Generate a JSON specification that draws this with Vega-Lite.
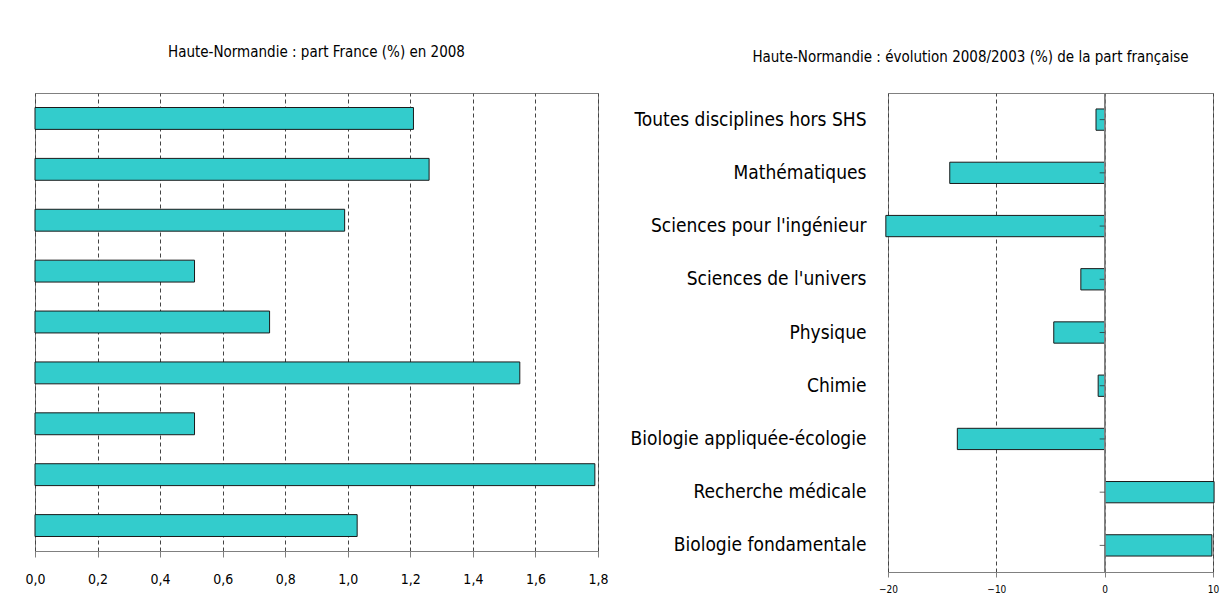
{
  "$schema": "https://vega.github.io/schema/vega-lite/v6.json",
  "background": "white",
  "padding": {"left": 24, "top": 44, "right": 2, "bottom": 5},
  "bounds": "flush",
  "spacing": 290,
  "config": {
    "font": "DejaVu Sans Condensed",
    "view": {"stroke": "#808080", "strokeWidth": 1},
    "axis": {"labelFont": "DejaVu Sans Condensed", "titleFont": "DejaVu Sans Condensed", "labelColor": "black", "domainColor": "#808080", "tickColor": "#808080"},
    "title": {"font": "DejaVu Sans Condensed"}
  },
  "datasets": {
    "d": [
      {"discipline": "Toutes disciplines hors SHS", "part": 1.21, "evolution": -0.8},
      {"discipline": "Mathématiques", "part": 1.26, "evolution": -14.3},
      {"discipline": "Sciences pour l'ingénieur", "part": 0.99, "evolution": -20.2},
      {"discipline": "Sciences de l'univers", "part": 0.51, "evolution": -2.2},
      {"discipline": "Physique", "part": 0.75, "evolution": -4.7},
      {"discipline": "Chimie", "part": 1.55, "evolution": -0.6},
      {"discipline": "Biologie appliquée-écologie", "part": 0.51, "evolution": -13.6},
      {"discipline": "Recherche médicale", "part": 1.79, "evolution": 10.1},
      {"discipline": "Biologie fondamentale", "part": 1.03, "evolution": 9.9}
    ]
  },
  "hconcat": [
    {
      "width": 563,
      "height": 458,
      "title": {"text": "Haute-Normandie : part France (%) en 2008", "fontSize": 15, "fontWeight": "normal", "color": "black", "frame": "group", "offset": 33},
      "data": {"name": "d"},
      "mark": {"type": "bar", "fill": "#33CCCC", "stroke": "#1a1a1a", "strokeWidth": 1},
      "encoding": {
        "y": {"field": "discipline", "type": "nominal", "sort": null, "axis": null, "scale": {"paddingInner": 0.57, "paddingOuter": 0.285}},
        "x": {
          "field": "part", "type": "quantitative",
          "scale": {"domain": [0, 1.8], "nice": false},
          "axis": {
            "title": null,
            "values": [0, 0.2, 0.4, 0.6, 0.8, 1.0, 1.2, 1.4, 1.6, 1.8],
            "labelExpr": "replace(format(datum.value, '.1f'), '.', ',')",
            "labelFlush": false,
            "grid": true, "gridDash": [4, 3], "gridColor": "#444444", "gridWidth": 1,
            "tickSize": 6, "labelFontSize": 14, "labelPadding": 15
          }
        }
      }
    },
    {
      "width": 325,
      "height": 479,
      "title": {"text": "Haute-Normandie : évolution 2008/2003 (%) de la part française", "fontSize": 15, "fontWeight": "normal", "color": "black", "frame": "group", "offset": 28, "dx": -80},
      "data": {"name": "d"},
      "layer": [
        {
          "mark": {"type": "bar", "fill": "#33CCCC", "stroke": "#1a1a1a", "strokeWidth": 1, "clip": false},
          "encoding": {
            "y": {
              "field": "discipline", "type": "nominal", "sort": null,
              "scale": {"paddingInner": 0.6, "paddingOuter": 0.3},
              "axis": {"title": null, "domain": false, "ticks": false, "labelFontSize": 19, "labelPadding": 22, "labelLimit": 400}
            },
            "x": {
              "field": "evolution", "type": "quantitative",
              "scale": {"domain": [-20, 10], "nice": false},
              "axis": {
                "title": null, "values": [-20, -10, 0, 10], "labelFlush": false,
                "grid": true, "gridDash": [4, 3], "gridColor": "#444444",
                "tickSize": 5, "labelFontSize": 10, "labelPadding": 7
              }
            }
          }
        },
        {
          "mark": {"type": "rule", "color": "#808080", "strokeWidth": 1},
          "encoding": {"x": {"datum": 0, "type": "quantitative"}}
        },
        {
          "mark": {"type": "tick", "orient": "horizontal", "color": "#222222", "size": 5, "thickness": 1, "xOffset": -2.5},
          "encoding": {
            "y": {"field": "discipline", "type": "nominal", "sort": null},
            "x": {"datum": 0, "type": "quantitative"}
          }
        }
      ]
    }
  ]
}
